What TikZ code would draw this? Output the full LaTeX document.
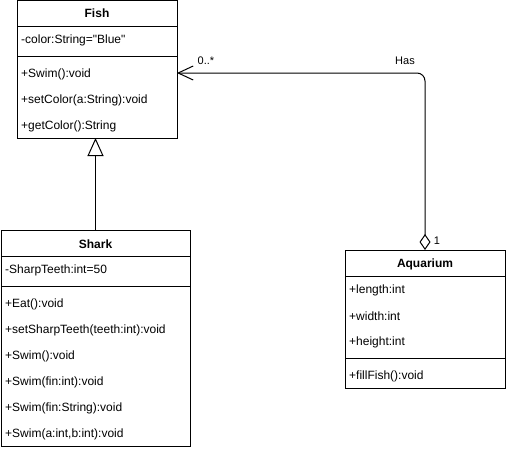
\documentclass[tikz,border=0pt]{standalone}
\usepackage{fontspec}
\setmainfont{Liberation Sans}[Ligatures=TeXOff]
\usetikzlibrary{arrows.meta,positioning}
\tikzset{
  cls/.style = {rectangle, draw=black, line width=1pt, fill=white, inner sep=0pt, outer sep=0pt, anchor=north west},
  ttl/.style = {font=\fontsize{12}{14}\selectfont\bfseries, inner sep=0pt},
  mbr/.style = {font=\fontsize{12}{14}\selectfont, anchor=west, inner sep=0pt},
  lbl/.style = {font=\fontsize{11}{13}\selectfont, inner sep=0pt},
  sep/.style = {line width=1pt},
  inh/.style = {-{Triangle[open,length=18pt,width=16pt]}, line width=1pt},
  agg/.style = {{Diamond[open,length=16pt,width=11pt]}-{Straight Barb[length=15pt,width=14pt]}, line width=1pt, rounded corners=8pt},
}
\begin{document}
\begin{tikzpicture}[x=1pt,y=-1pt]
\useasboundingbox (0,0) rectangle (506,450);
% classes
\node[cls, minimum width=160pt, minimum height=138pt] (fish) at (17,0) {};
\node[cls, minimum width=189pt, minimum height=216pt] (shark) at (1,230) {};
\node[cls, minimum width=160pt, minimum height=138pt] (aquarium) at (345,250) {};
% Fish
\node[ttl] (fishname) at (97,13) {Fish};
\draw[sep] (17,26) -- (177,26);
\draw[sep] (17,56) -- (177,56);
\node[mbr] (fishattr) at (21,40) {-color:String="Blue"};
\foreach \t [count=\i] in {{+Swim():void},{+setColor(a:String):void},{+getColor():String}}
  \node[mbr] (fishop\i) at (21,48+26*\i) {\t};
% Shark
\node[ttl] (sharkname) at (95.5,244) {Shark};
\draw[sep] (1,256) -- (190,256);
\draw[sep] (1,286) -- (190,286);
\node[mbr] (sharkattr) at (5,270) {-SharpTeeth:int=50};
\foreach \t [count=\i] in {{+Eat():void},{+setSharpTeeth(teeth:int):void},{+Swim():void},
    {+Swim(fin:int):void},{+Swim(fin:String):void},{+Swim(a:int,b:int):void}}
  \node[mbr] (sharkop\i) at (5,278+26*\i) {\t};
% Aquarium
\node[ttl] (aquaname) at (425,264) {Aquarium};
\draw[sep] (345,276) -- (505,276);
\draw[sep] (345,358) -- (505,358);
\foreach \t [count=\i] in {{+length:int},{+width:int},{+height:int}}
  \node[mbr] (aquaattr\i) at (349,264+26*\i) {\t};
\node[mbr] (aquaop) at (349,376) {+fillFish():void};
% relations
\draw[inh] (shark.north) -- (shark.north |- fish.south);
\draw[agg] (aquarium.north) |- ([yshift=-4pt]fish.east);
\node[lbl] (many) at (206,61) {0..*};
\node[lbl] (has) at (405,61) {Has};
\node[lbl] (one) at (437,241) {1};
\end{tikzpicture}
\end{document}
